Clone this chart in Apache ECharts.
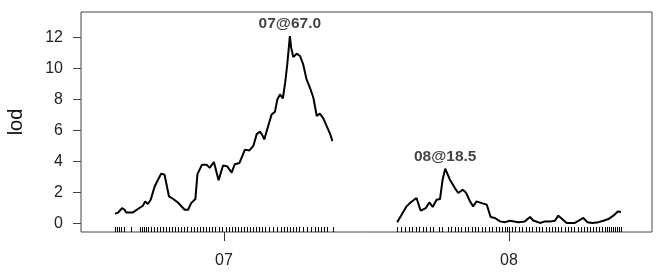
<!DOCTYPE html>
<html>
<head>
<meta charset="utf-8">
<script src="https://cdn.jsdelivr.net/npm/echarts@6/dist/echarts.min.js"></script>
<style>
  html, body { margin: 0; padding: 0; background: #fff; }
  #main { width: 656px; height: 272px; }
</style>
</head>
<body>
<div id="main"></div>
<script>
// chromosomes
const chrNames = ['07', '08']
const chrLengths = [83.5, 85.8]
const chrGap = 24.5

// lod curve, chr 07 (cM, lod)
const chr7Pos = [0.0, 1.1, 2.7, 3.7, 4.3, 6.9, 8.8, 10.7, 11.6, 12.6, 13.7, 15.2, 16.5, 17.7, 19.0, 20.7, 22.2, 24.1, 26.7, 28.0,
  29.2, 30.8, 31.6, 33.3, 35.2, 36.3, 37.9, 39.7, 41.4, 43.0, 44.7, 45.9, 47.7, 49.8, 51.5, 53.0, 54.3, 55.6, 56.4, 57.2,
  58.7, 60.0, 61.3, 62.2, 63.2, 64.3, 65.2, 66.0, 67.0, 67.5, 68.3, 69.6, 70.9, 72.1, 73.4, 74.7, 76.0, 77.3, 78.5, 79.8,
  81.1, 82.4, 83.3]
const chr7Lod = [0.65, 0.7, 1.0, 0.9, 0.73, 0.73, 0.95, 1.16, 1.44, 1.27, 1.55, 2.4, 2.84, 3.23, 3.16, 1.76, 1.61, 1.37, 0.9, 0.9,
  1.33, 1.59, 3.2, 3.8, 3.8, 3.6, 3.98, 2.8, 3.76, 3.7, 3.3, 3.84, 3.92, 4.78, 4.73, 5.02, 5.78, 5.94, 5.72, 5.44,
  6.3, 7.05, 7.23, 8.02, 8.34, 8.08, 9.1, 10.28, 12.1, 11.35, 10.75, 10.97, 10.82, 10.28, 9.31, 8.77, 8.13, 6.95, 7.1, 6.8,
  6.3, 5.8, 5.33]

// lod curve, chr 08 (cM, lod)
const chr8Pos = [0.1, 1.8, 3.7, 5.2, 7.5, 9.1, 11.1, 12.4, 13.7, 15.2, 16.5, 17.5, 18.5, 20.3, 22.2, 23.5, 25.2, 26.4, 28.0, 29.2,
  30.5, 32.5, 34.4, 35.9, 37.5, 39.5, 41.4, 43.3, 46.5, 49.0, 51.0, 52.2, 54.8, 56.7, 59.0, 60.5, 61.8, 63.3, 65.0, 68.2,
  69.5, 71.4, 72.9, 74.9, 77.2, 79.1, 81.0, 82.9, 84.6, 85.8]
const chr8Lod = [0.09, 0.58, 1.12, 1.37, 1.66, 0.84, 1.01, 1.37, 1.08, 1.55, 1.59, 2.84, 3.55, 2.84, 2.3, 1.98, 2.19, 2.02, 1.44, 1.12,
  1.44, 1.33, 1.23, 0.43, 0.37, 0.15, 0.1, 0.19, 0.1, 0.15, 0.43, 0.21, 0.05, 0.15, 0.15, 0.19, 0.52, 0.3, 0.05, 0.05,
  0.19, 0.37, 0.1, 0.05, 0.1, 0.19, 0.3, 0.52, 0.79, 0.75]

// marker positions (rug)
const chr7Markers = [0, 0.8, 1.5, 2.3, 3.4, 6.1, 9.6, 10.3, 11.1, 11.9, 12.6, 13.8, 14.9, 16.1, 17.2, 18.4, 19.5, 20.7, 21.8, 23.0,
  24.1, 25.3, 26.4, 27.6, 29.1, 30.3, 31.4, 32.6, 33.7, 34.9, 36.0, 37.2, 38.3, 39.8, 41.0, 42.5, 43.7, 44.8, 46.0, 47.1,
  48.3, 49.4, 50.6, 51.7, 52.9, 54.0, 55.2, 56.3, 57.5, 59.0, 60.5, 62.1, 63.6, 64.8, 65.9, 67.0, 68.2, 69.3, 70.5, 72.0,
  73.6, 75.1, 76.6, 77.8, 78.9, 80.1, 81.2, 83.5]
const chr8Markers = [0, 1.5, 3.1, 4.6, 5.7, 7.3, 8.4, 10.0, 11.1, 12.6, 13.8, 16.1, 17.2, 19.5, 20.7, 22.2, 23.4, 24.5, 26.1, 27.2,
  28.7, 29.9, 31.0, 32.6, 33.7, 35.2, 36.4, 37.9, 39.1, 40.2, 41.4, 42.1, 42.9, 44.1, 45.2, 46.7, 47.9, 49.4, 50.6, 51.7,
  53.3, 54.4, 55.6, 57.1, 58.2, 59.4, 60.5, 61.7, 62.8, 64.4, 65.5, 66.7, 67.8, 69.3, 70.5, 71.6, 72.8, 73.9, 75.1, 76.2,
  77.4, 78.5, 79.7, 80.5, 81.2, 82.0, 82.8, 83.5, 84.3, 85.1, 85.8]

// peaks to annotate
const peakChr = [0, 1]
const peakPos = [67.0, 18.5]
const peakLod = [12.1, 3.55]

const yTicks = [0, 2, 4, 6, 8, 10, 12]

const offsets = [0, chrLengths[0] + chrGap]
const xMin = -13.0
const xMax = offsets[1] + chrLengths[1] + 11.9
const chrCenters = chrNames.map((n, i) => offsets[i] + chrLengths[i] / 2)
const rug = chr7Markers.map(p => p + offsets[0]).concat(chr8Markers.map(p => p + offsets[1]))

const font = '"Liberation Sans", Arial, sans-serif'

function toData(pos, lod, off) {
  return pos.map((p, i) => [p + off, lod[i]])
}

const lineStyle = { color: '#000', width: 2 }

const option = {
  animation: false,
  grid: {
    left: 81, right: 4, top: 12, bottom: 40,
    outerBoundsMode: 'none', containLabel: false,
    show: true, borderColor: '#444', borderWidth: 1, backgroundColor: 'transparent'
  },
  xAxis: [
    {
      type: 'value', min: xMin, max: xMax,
      splitLine: { show: false },
      axisLine: { show: false, onZero: false },
      axisTick: { show: true, length: 9, lineStyle: { color: '#333' }, customValues: chrCenters },
      axisLabel: {
        show: true, margin: 21, fontSize: 16, color: '#222', fontFamily: font,
        customValues: chrCenters,
        formatter: v => {
          const i = chrCenters.findIndex(c => Math.abs(c - v) < 1e-6)
          return i >= 0 ? chrNames[i] : ''
        }
      }
    },
    {
      type: 'value', min: xMin, max: xMax, position: 'bottom',
      splitLine: { show: false },
      axisLine: { show: false, onZero: false },
      axisLabel: { show: false },
      axisTick: { show: true, inside: true, length: 5, lineStyle: { color: '#000', width: 1 }, customValues: rug }
    }
  ],
  yAxis: {
    type: 'value', min: -0.535, max: 13.66,
    name: 'lod', nameLocation: 'middle', nameGap: 55, nameRotate: 90,
    nameTextStyle: { fontSize: 20, color: '#111', fontFamily: font },
    splitLine: { show: false },
    axisLine: { show: false, onZero: false },
    axisTick: { show: true, length: 8, lineStyle: { color: '#444' }, customValues: yTicks },
    axisLabel: { margin: 18, fontSize: 16, color: '#222', fontFamily: font, customValues: yTicks }
  },
  series: [
    {
      type: 'line', data: toData(chr7Pos, chr7Lod, offsets[0]),
      showSymbol: false, lineStyle: lineStyle, silent: true
    },
    {
      type: 'line', data: toData(chr8Pos, chr8Lod, offsets[1]),
      showSymbol: false, lineStyle: lineStyle, silent: true
    },
    {
      type: 'scatter', symbolSize: 0, silent: true,
      data: peakChr.map((c, i) => [peakPos[i] + offsets[c], peakLod[i], i]),
      label: {
        show: true, position: 'top', distance: 4,
        fontSize: 15.5, fontWeight: 'bold', color: '#111', fontFamily: font,
        formatter: p => chrNames[peakChr[p.data[2]]] + '@' + peakPos[p.data[2]].toFixed(1)
      }
    }
  ]
}

const chart = echarts.init(document.getElementById('main'))
chart.setOption(option)
</script>
</body>
</html>
